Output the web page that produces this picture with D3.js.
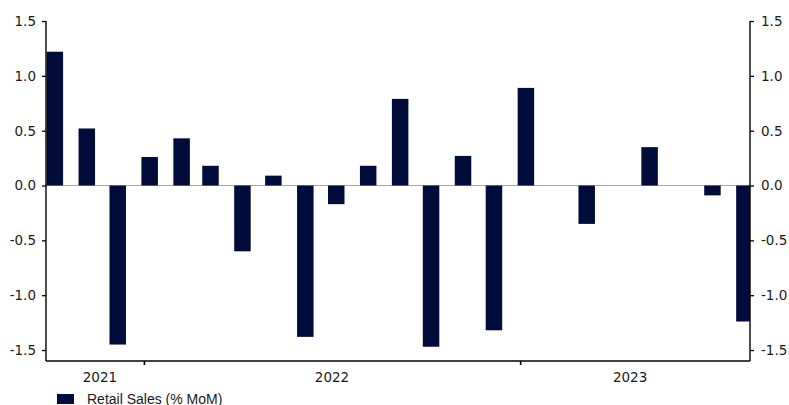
<!DOCTYPE html>
<html>
<head>
<meta charset="utf-8">
<script src="https://cdn.jsdelivr.net/npm/d3@7"></script>
<style>
  html, body { margin: 0; padding: 0; background: #fff; }
  svg { display: block; }
  .tick-label { font-family: "DejaVu Sans", Verdana, sans-serif; font-size: 13.5px; fill: #1a1a1a; }
  .legend-label { font-family: "Liberation Sans", Arial, sans-serif; font-size: 14px; fill: #1a1a1a; }
</style>
</head>
<body>
<svg id="chart" width="789" height="405"></svg>
<script>
// Monthly retail sales, % change month on month (Oct 2021 – Aug 2023)
const months = [
  "2021-10", "2021-11", "2021-12",
  "2022-01", "2022-02", "2022-03", "2022-04", "2022-05", "2022-06",
  "2022-07", "2022-08", "2022-09", "2022-10", "2022-11", "2022-12",
  "2023-01", "2023-02", "2023-03", "2023-04", "2023-05", "2023-06",
  "2023-07", "2023-08"
];
const retailSales = [
  1.22, 0.52, -1.45,
  0.26, 0.43, 0.18, -0.60, 0.09, -1.38,
  -0.17, 0.18, 0.79, -1.47, 0.27, -1.32,
  0.89, 0.0, -0.35, 0.0, 0.35, 0.0,
  -0.09, -1.24
];
const yTicks = [-1.5, -1.0, -0.5, 0.0, 0.5, 1.0, 1.5];
const years = [2021, 2022, 2023];
const seriesName = "Retail Sales (% MoM)";

const parseMonth = d3.timeParse("%Y-%m");
const data = months.map((m, i) => ({ date: parseMonth(m), value: retailSales[i] }));

const svg = d3.select("#chart");
const plotLeft = 46, plotRight = 750, plotTop = 21, plotBottom = 361;
const barColor = "#020c3b";
// plain hyphen for negatives, one decimal place
const fmt = d => d.toFixed(1);

const x = d3.scaleTime()
  .domain([new Date(2021, 8, 28), new Date(2023, 7, 12)])
  .range([plotLeft, plotRight]);
const y = d3.scaleLinear()
  .domain([-1.6, 1.5])
  .range([plotBottom, plotTop]);

// zero reference line
svg.append("line")
  .attr("x1", plotLeft).attr("x2", plotRight)
  .attr("y1", y(0)).attr("y2", y(0))
  .attr("stroke", "#a6a6a6").attr("stroke-width", 1);

// bars, one per month
const barW = 16.5;
svg.append("g").selectAll("rect")
  .data(data)
  .join("rect")
  .attr("x", d => x(d.date) - 2.5)
  .attr("width", d => Math.min(barW, plotRight - (x(d.date) - 2.5)))
  .attr("y", d => y(Math.max(0, d.value)))
  .attr("height", d => Math.abs(y(d.value) - y(0)))
  .attr("fill", barColor);

// left value axis
const yLeft = d3.axisLeft(y).tickValues(yTicks).tickSize(4).tickPadding(6).tickFormat(fmt);
const gL = svg.append("g").attr("transform", `translate(${plotLeft},0)`).call(yLeft);
gL.attr("font-size", null).attr("font-family", null);
gL.select(".domain").remove();
gL.selectAll(".tick line").attr("stroke", "#000").attr("stroke-width", 1.3);
gL.selectAll(".tick text").attr("class", "tick-label");
gL.append("line").attr("x1", 0).attr("x2", 0).attr("y1", plotTop).attr("y2", plotBottom)
  .attr("stroke", "#000").attr("stroke-width", 1.4);

// right value axis
const yRight = d3.axisRight(y).tickValues(yTicks).tickSize(4).tickPadding(7).tickFormat(fmt);
const gR = svg.append("g").attr("transform", `translate(${plotRight},0)`).call(yRight);
gR.attr("font-size", null).attr("font-family", null);
gR.select(".domain").remove();
gR.selectAll(".tick line").attr("stroke", "#000").attr("stroke-width", 1.3);
gR.selectAll(".tick text").attr("class", "tick-label");
gR.append("line").attr("x1", 0).attr("x2", 0).attr("y1", plotTop).attr("y2", plotBottom)
  .attr("stroke", "#000").attr("stroke-width", 1.4);

// time axis: tick at each year boundary, label centred within each year
const yearStarts = years.slice(1).map(yr => new Date(yr, 0, 1));
const xAxis = d3.axisBottom(x).tickValues(yearStarts).tickSize(4).tickFormat("");
const gX = svg.append("g").attr("transform", `translate(0,${plotBottom})`).call(xAxis);
gX.attr("font-size", null).attr("font-family", null);
gX.select(".domain").remove();
gX.selectAll(".tick line").attr("stroke", "#000").attr("stroke-width", 1.6);
gX.append("line").attr("x1", plotLeft).attr("x2", plotRight).attr("y1", 0).attr("y2", 0)
  .attr("stroke", "#000").attr("stroke-width", 1.6);

gX.selectAll(".year-label")
  .data(years)
  .join("text")
  .attr("class", "tick-label")
  .attr("text-anchor", "middle")
  .attr("x", yr => {
    const a = Math.max(x(new Date(yr, 0, 1)), plotLeft + 10);
    const b = Math.min(x(new Date(yr + 1, 0, 1)), plotRight - 10);
    return (a + b) / 2;
  })
  .attr("y", 21)
  .text(yr => yr);

// legend
const legend = svg.append("g").attr("transform", "translate(57,394)");
legend.append("rect").attr("width", 17).attr("height", 10).attr("fill", barColor);
legend.append("text").attr("class", "legend-label").attr("x", 30).attr("y", 9.5).text(seriesName);
</script>
</body>
</html>
